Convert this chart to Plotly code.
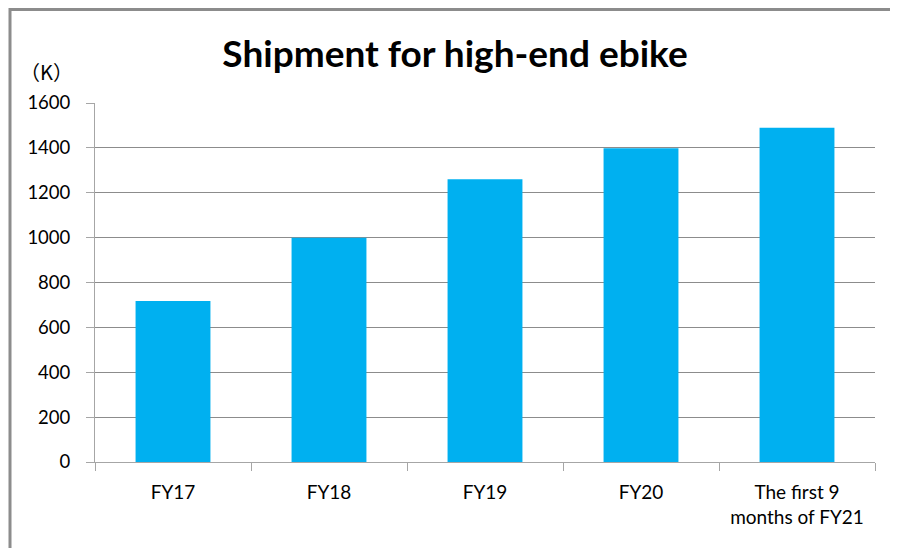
import plotly.graph_objects as go

categories = ["FY17", "FY18", "FY19", "FY20", "The first 9<br>months of FY21"]
shipments_k = [718, 1000, 1260, 1398, 1490]
y_ticks = [0, 200, 400, 600, 800, 1000, 1200, 1400, 1600]

# page body has an 8px margin; positions below are in figure pixels
W, H = 890, 540
L, R, T, B = 87, 23, 95, 86
pw, ph = W - L - R, H - T - B

def px_to_paper_x(px):
    return (px - L) / pw

def px_to_paper_y(py):
    return (H - B - py) / ph

fig = go.Figure(go.Bar(
    x=categories, y=shipments_k,
    marker=dict(color="#00B0F0", line=dict(width=0)),
))

fig.update_layout(
    width=W, height=H,
    margin=dict(l=L, r=R, t=T, b=B),
    paper_bgcolor="white", plot_bgcolor="white",
    bargap=0.52,
    showlegend=False,
    font=dict(family="Lato, 'Open Sans', sans-serif", size=18, color="#000000"),
    title=dict(text="<b>Shipment for high-end ebike</b>",
               x=px_to_paper_x(447), xref="paper", xanchor="center",
               y=1 - 46 / H, yanchor="middle", yref="container",
               font=dict(size=37, color="#000000")),
    xaxis=dict(type="category", showgrid=False, showline=True, linecolor="#a6a6a6", linewidth=1,
               ticks="outside", ticklen=8, tickcolor="#a6a6a6", tickson="boundaries",
               tickfont=dict(size=19), ticklabelstandoff=13, fixedrange=True),
    yaxis=dict(range=[0, 1600], tickvals=y_ticks, showgrid=True, gridcolor="#8c8c8c", gridwidth=1,
               showline=True, linecolor="#a6a6a6", linewidth=1, zeroline=False,
               ticks="outside", ticklen=8, tickcolor="#a6a6a6", tickfont=dict(size=18.5),
               ticklabelstandoff=12),
    annotations=[dict(text="（K）", x=px_to_paper_x(38), y=px_to_paper_y(64), xref="paper", yref="paper",
                      showarrow=False, xanchor="center", yanchor="middle",
                      font=dict(size=20, family="'Noto Sans CJK JP', sans-serif"))],
    shapes=[dict(type="rect", xref="paper", yref="paper",
                 x0=px_to_paper_x(2), x1=px_to_paper_x(900),
                 y0=px_to_paper_y(560), y1=px_to_paper_y(1.5),
                 line=dict(color="#8c8c8c", width=3), fillcolor="rgba(0,0,0,0)", layer="below")],
)

fig.write_html("out.html")
